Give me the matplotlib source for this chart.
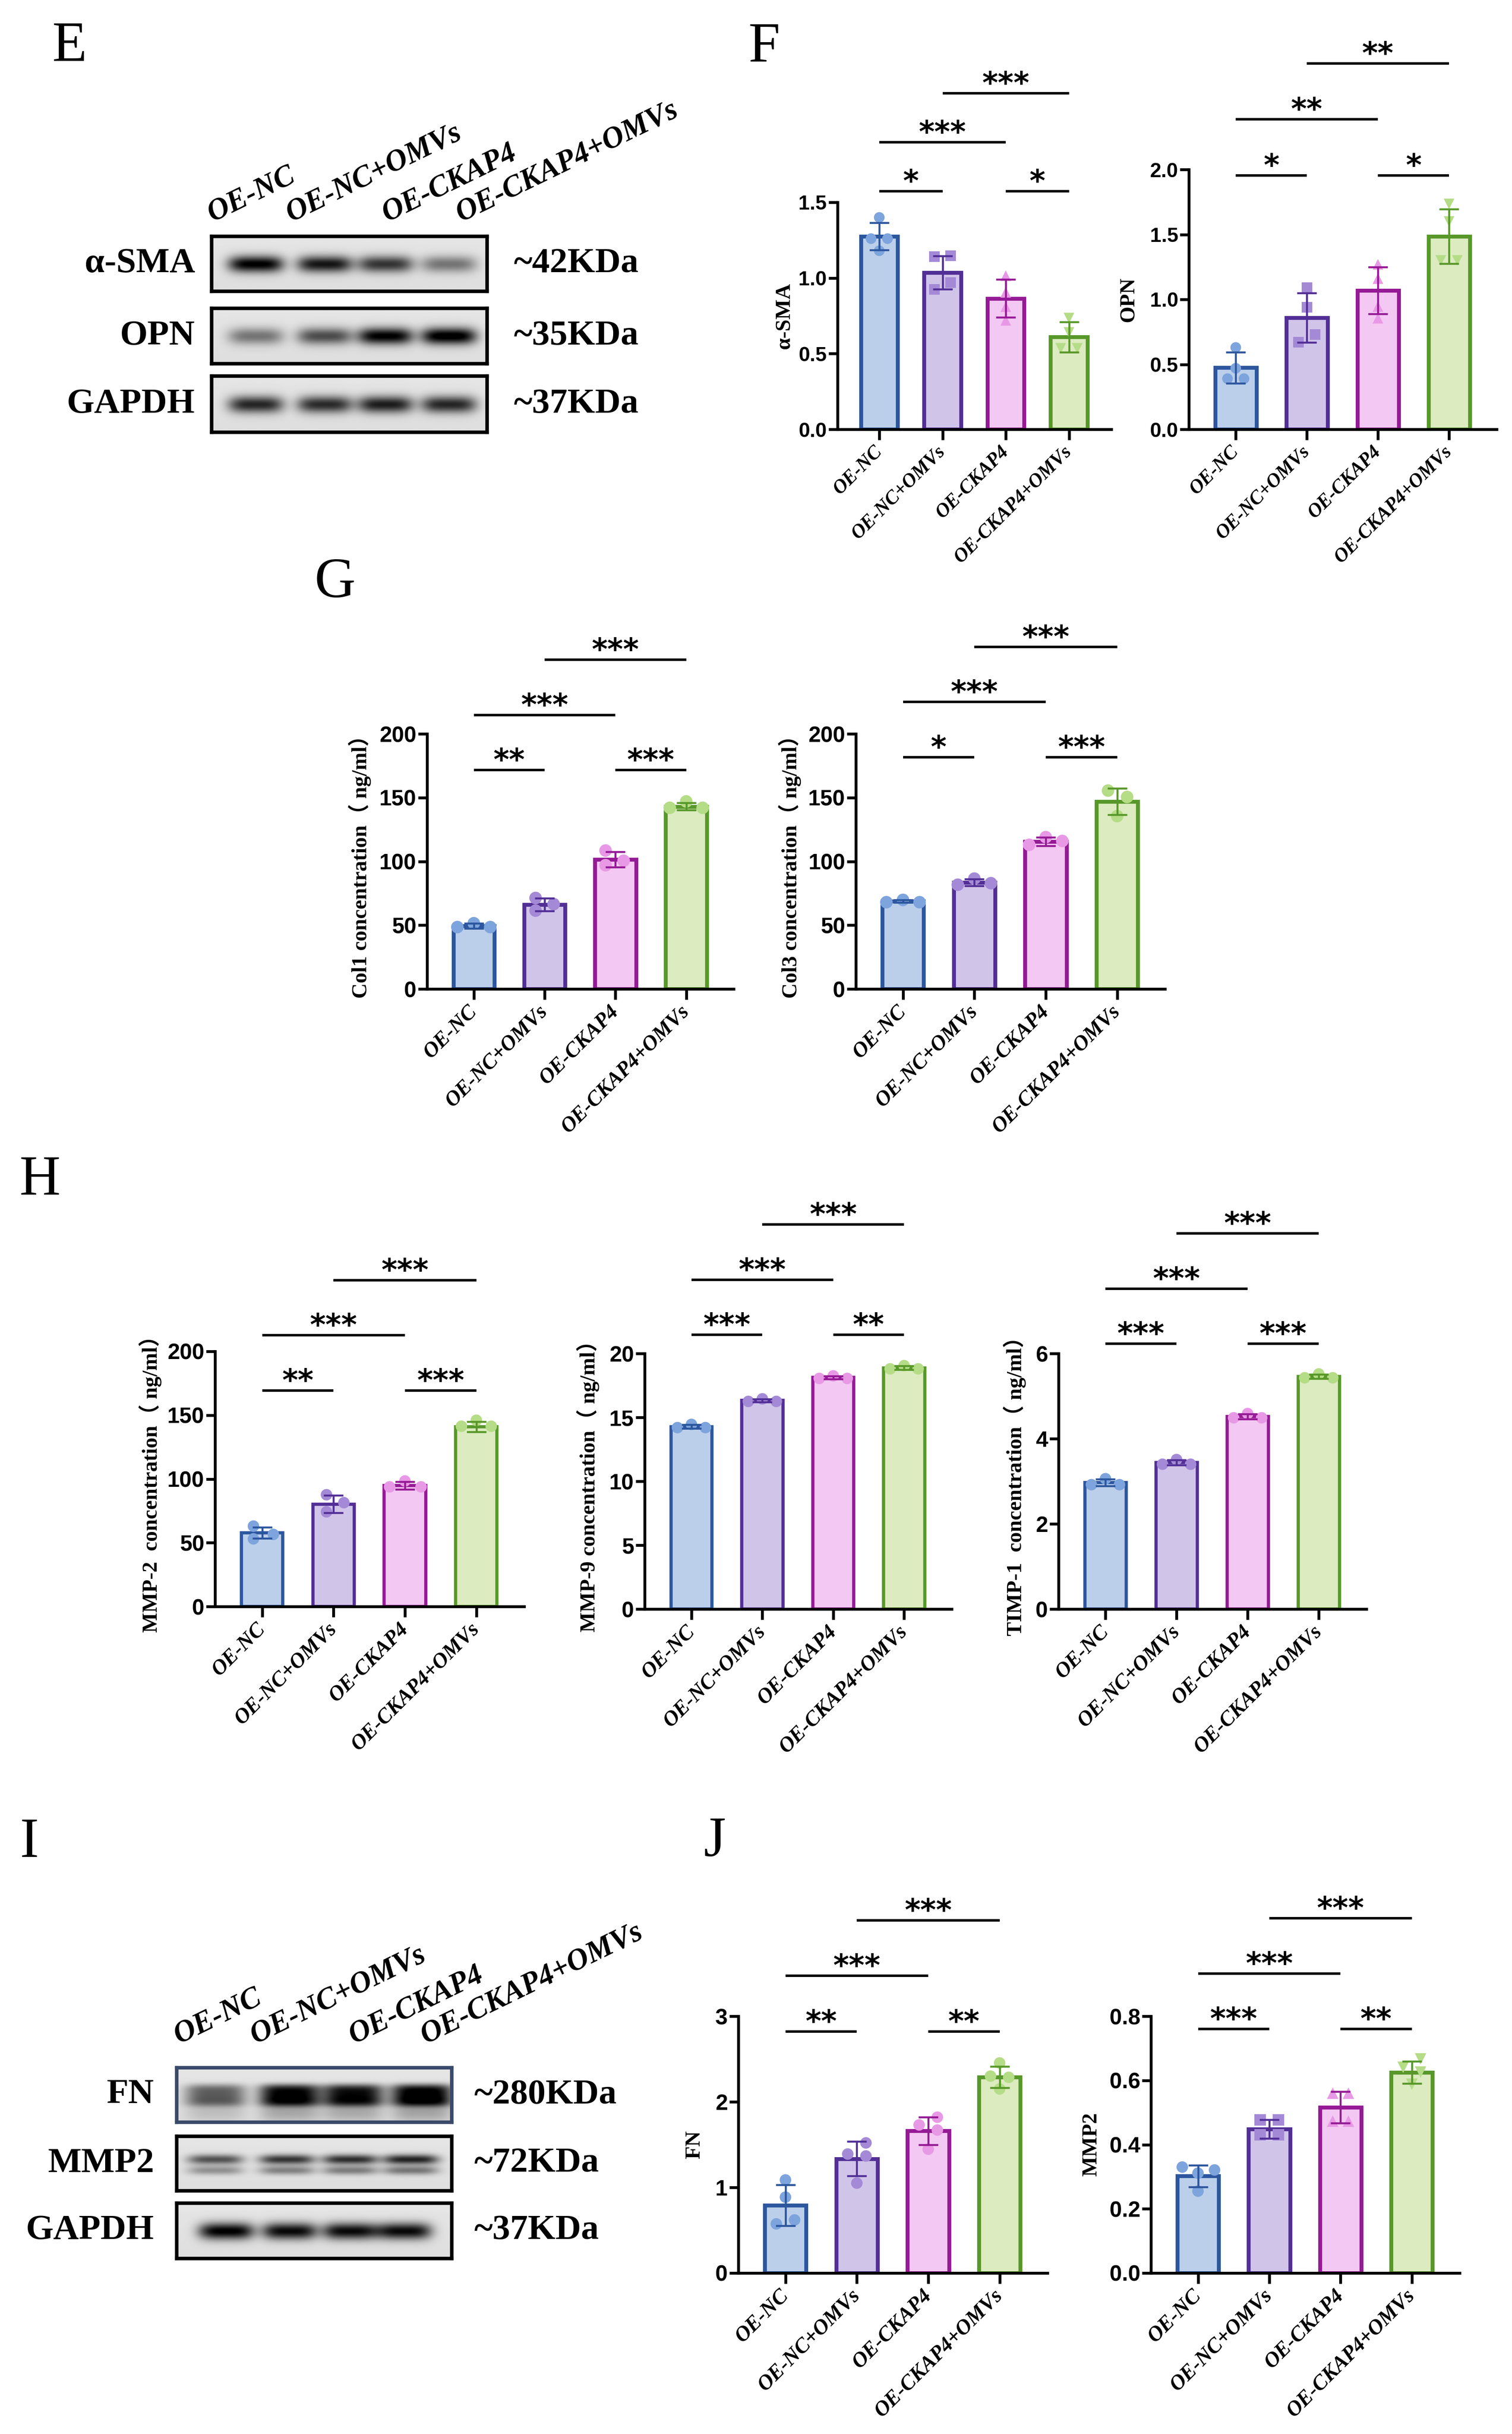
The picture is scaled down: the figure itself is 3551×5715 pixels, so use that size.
import numpy as np
import matplotlib
matplotlib.use("Agg")
import matplotlib.pyplot as plt
from matplotlib.ticker import FormatStrFormatter
from matplotlib.font_manager import FontProperties

W, H = 3551, 5715
DPI = 300
plt.rcParams['font.family'] = ['Liberation Serif', 'Noto Sans CJK SC', 'DejaVu Sans']
SANS = ['Liberation Sans Narrow', 'Liberation Sans', 'DejaVu Sans']

groups = ["OE-NC", "OE-NC+OMVs", "OE-CKAP4", "OE-CKAP4+OMVs"]

# western blot band strength (0 none .. 1 saturated)
e_rows = ["α-SMA", "OPN", "GAPDH"]
e_kda = ["~42KDa", "~35KDa", "~37KDa"]
asma_band = [0.95, 0.85, 0.72, 0.45]
opn_band = [0.45, 0.62, 0.95, 1.0]
gapdh_e_band = [0.78, 0.76, 0.82, 0.78]
i_rows = ["FN", "MMP2", "GAPDH"]
i_kda = ["~280KDa", "~72KDa", "~37KDa"]
fn_band = [0.55, 0.95, 0.9, 1.0]
mmp2_band = [0.6, 0.72, 0.75, 0.8]
gapdh_i_band = [0.95, 0.9, 0.9, 0.9]

# F
asma_mean = [1.275, 1.035, 0.865, 0.61]
asma_sd = [0.09, 0.11, 0.125, 0.10]
asma_pts = [[1.40, 1.26, 1.26, 1.18], [1.14, 1.148, 0.97, 0.925],
            [1.015, 0.905, 0.81, 0.72], [0.735, 0.64, 0.535, 0.535]]
asma_sig = [(0, 1, "*"), (2, 3, "*"), (0, 2, "***"), (1, 3, "***")]
opn_mean = [0.475, 0.86, 1.07, 1.485]
opn_sd = [0.12, 0.19, 0.18, 0.21]
opn_pts = [[0.63, 0.47, 0.39, 0.39], [1.09, 0.94, 0.73, 0.67],
           [1.27, 1.16, 0.945, 0.855], [1.735, 1.60, 1.30, 1.30]]
opn_sig = [(0, 1, "*"), (2, 3, "*"), (0, 2, "**"), (1, 3, "**")]

# G
col1_mean = [49.5, 66.0, 101.5, 143.0]
col1_sd = [2.0, 5.0, 6.0, 2.9]
col1_pts = [[48.5, 51.5, 48.5], [71.3, 66.5, 61.4], [108.5, 100.5, 97.0], [142.0, 147.0, 142.0]]
col1_sig = [(0, 1, "**"), (2, 3, "***"), (0, 2, "***"), (1, 3, "***")]
col3_mean = [68.7, 83.5, 115.5, 147.0]
col3_sd = [1.0, 2.6, 3.3, 10.4]
col3_pts = [[68.0, 69.8, 68.0], [81.7, 86.5, 82.9], [113.0, 119.0, 116.0], [155.5, 150.5, 135.5]]
col3_sig = [(0, 1, "*"), (2, 3, "***"), (0, 2, "***"), (1, 3, "***")]

# H
mmp2c_mean = [57.8, 80.3, 94.8, 141.0]
mmp2c_sd = [4.4, 6.7, 3.0, 4.0]
mmp2c_pts = [[63.0, 56.5, 53.0], [87.6, 81.4, 74.2], [93.8, 98.4, 93.8], [141.3, 146.0, 141.3]]
mmp2c_sig = [(0, 1, "**"), (2, 3, "***"), (0, 2, "***"), (1, 3, "***")]
mmp9_mean = [14.28, 16.32, 18.12, 18.88]
mmp9_sd = [0.14, 0.12, 0.12, 0.14]
mmp9_pts = [[14.2, 14.45, 14.2], [16.25, 16.45, 16.25], [18.05, 18.25, 18.05], [18.8, 19.05, 18.8]]
mmp9_sig = [(0, 1, "***"), (2, 3, "**"), (0, 2, "***"), (1, 3, "***")]
timp_mean = [2.97, 3.44, 4.52, 5.46]
timp_sd = [0.08, 0.06, 0.06, 0.05]
timp_pts = [[2.92, 3.06, 2.92], [3.40, 3.51, 3.40], [4.49, 4.59, 4.49], [5.43, 5.52, 5.43]]
timp_sig = [(0, 1, "***"), (2, 3, "***"), (0, 2, "***"), (1, 3, "***")]

# J
fn_mean = [0.79, 1.335, 1.66, 2.29]
fn_sd = [0.24, 0.20, 0.16, 0.125]
fn_pts = [[1.087, 0.886, 0.62, 0.574], [1.52, 1.39, 1.367, 1.05],
          [1.82, 1.73, 1.67, 1.446], [2.454, 2.30, 2.286, 2.15]]
fn_sig = [(0, 1, "**"), (2, 3, "**"), (0, 2, "***"), (1, 3, "***")]
mmp2_mean = [0.302, 0.448, 0.516, 0.625]
mmp2_sd = [0.034, 0.029, 0.049, 0.034]
mmp2_pts = [[0.33, 0.321, 0.311, 0.255], [0.477, 0.477, 0.43, 0.43],
            [0.56, 0.56, 0.473, 0.473], [0.667, 0.641, 0.626, 0.588]]
mmp2_sig = [(0, 1, "***"), (2, 3, "**"), (0, 2, "***"), (1, 3, "***")]

fills = ['#BCCFEA', '#D1C4E9', '#F3C8F2', '#DCEBC0']
edges = ['#2C569E', '#522F96', '#951A95', '#58982A']
ptcol = ['#7DA4DC', '#A48AD6', '#E899E6', '#B5DC86']
mk4 = ['o', 's', '^', 'v']
mk_o = ['o', 'o', 'o', 'o']

fig = plt.figure(figsize=(W / DPI, H / DPI), dpi=DPI)


def rect(x0, ytop, x1, ybot):
    return [x0 / W, 1 - ybot / H, (x1 - x0) / W, (ybot - ytop) / H]


def letter(x, y, s):
    fig.text(x / W, 1 - y / H, s, fontsize=32, ha='left', va='baseline')


def bar_panel(r, mean, sd, pts, offs, marks, ymax, step, fmt, ylabel, lab_off,
              sig, base, ms=40, lw=2.2, xfs=12, yfs=12.5):
    ax = fig.add_axes(rect(*r))
    x = np.arange(4)
    ax.bar(x, mean, width=0.58, color=fills, edgecolor=edges, linewidth=lw, zorder=2)
    for i in range(4):
        for v, o in zip(pts[i], offs[i]):
            ax.scatter(i + o * 0.58, v, marker=marks[i], s=ms, color=ptcol[i],
                       edgecolors='none', zorder=3, clip_on=False)
        ax.errorbar(i, mean[i], yerr=sd[i], fmt='none', ecolor=edges[i],
                    elinewidth=1.1, capsize=5.5, capthick=1.1, zorder=4)
    ax.set_xlim(-0.66, 3.67)
    ax.set_ylim(0, ymax)
    ticks = np.arange(0, ymax + step / 2, step)
    ax.set_yticks(ticks)
    ax.set_yticklabels([fmt % t for t in ticks],
                       fontproperties=FontProperties(family=SANS, weight='bold', size=yfs))
    for s in ['top', 'right']:
        ax.spines[s].set_visible(False)
    for s in ['left', 'bottom']:
        ax.spines[s].set_linewidth(1.6)
    ax.tick_params(axis='x', length=6, width=1.6, pad=5)
    ax.tick_params(axis='y', length=5, width=1.6, pad=1)
    ax.set_xticks(x)
    ax.set_xticklabels(groups, rotation=45, ha='right', va='center',
                       rotation_mode='anchor', fontsize=xfs,
                       fontweight='bold', fontstyle='italic')
    ax.set_ylabel(ylabel, fontsize=12, fontweight='bold', va='center')
    wpx = r[2] - r[0]
    ax.yaxis.set_label_coords(-lab_off / wpx, 0.5)
    lev = [0, 0, 1, 2]
    for (i, j, lab), k in zip(sig, lev):
        y = (base + 0.216 * k) * ymax
        ax.plot([i, j], [y, y], color='black', lw=1.4, clip_on=False,
                solid_capstyle='butt')
        ax.annotate(lab, xy=((i + j) / 2, y), xytext=(0, 0),
                    textcoords='offset points', ha='center', va='baseline',
                    fontsize=17, fontweight='bold', family='DejaVu Sans',
                    annotation_clip=False)
    return ax


def blot(r, strength, lanes, bw, kind='single', border='black'):
    ax = fig.add_axes(rect(*r))
    ny, nx = 90, 420
    yy, xx = np.mgrid[0:ny, 0:nx]
    xx = xx / nx
    yy = yy / ny
    img = np.full((ny, nx), 0.9) - 0.03 * yy
    for s, c in zip(strength, lanes):
        px = np.exp(-((xx - c) / bw) ** 4)
        if kind == 'single':
            py = np.exp(-((yy - 0.5) / 0.15) ** 2)
        elif kind == 'doublet':
            py = np.exp(-((yy - 0.42) / 0.09) ** 2) + 0.55 * np.exp(-((yy - 0.62) / 0.08) ** 2)
        else:
            py = np.exp(-((yy - 0.5) / 0.2) ** 4) + 0.25 * np.exp(-((yy - 0.8) / 0.2) ** 2)
        img = img - 0.95 * s * px * py
    ax.imshow(np.clip(img, 0, 1), cmap='gray', vmin=0, vmax=1, aspect='auto',
              interpolation='bilinear')
    ax.set_xticks([])
    ax.set_yticks([])
    for s in ax.spines.values():
        s.set_linewidth(2.0)
        s.set_color(border)
    return ax


def blot_labels(xs, y, right_x, kda_x, row_ys, rows, kdas):
    for g, x0 in zip(groups, xs):
        fig.text(x0 / W, 1 - y / H, g, rotation=26, rotation_mode='anchor',
                 ha='left', va='baseline', fontsize=17, fontweight='bold',
                 fontstyle='italic')
    for yc, lab, kd in zip(row_ys, rows, kdas):
        fig.text(right_x / W, 1 - yc / H, lab, ha='right', va='center',
                 fontsize=20, fontweight='bold')
        fig.text(kda_x / W, 1 - yc / H, kd, ha='left', va='center',
                 fontsize=20, fontweight='bold')


# ---- E
letter(122, 143, "E")
lane_e = [0.16, 0.41, 0.63, 0.86]
blot((497, 555, 1144, 684), asma_band, lane_e, 0.1)
blot((497, 724, 1144, 854), opn_band, lane_e, 0.1)
blot((497, 883, 1144, 1015), gapdh_e_band, lane_e, 0.1)
blot_labels([499, 684, 909, 1083], 522, 458, 1206, [620, 789, 949], e_rows, e_kda)

# ---- F
letter(1757, 144, "F")
off4a = [[0, -0.225, 0.225, 0], [-0.225, 0.225, 0.225, -0.225], [0, 0, 0, 0], [0, 0, -0.225, 0.225]]
bar_panel((1967, 475, 2610, 1008), asma_mean, asma_sd, asma_pts, off4a, mk4, 1.5, 0.5,
          '%.1f', 'α-SMA', 125, asma_sig, 1.049, ms=36, xfs=11, yfs=11.5)
off4b = [[0, 0, -0.2, 0.2], [0, 0, 0.2, -0.2], [0, 0, 0, 0], [0, 0, -0.2, 0.2]]
bar_panel((2792, 398, 3515, 1008), opn_mean, opn_sd, opn_pts, off4b, mk4, 2.0, 0.5,
          '%.1f', 'OPN', 142, opn_sig, 0.977, ms=36, xfs=11, yfs=11.5)

# ---- G
letter(738, 1402, "G")
off_c1 = [[-0.4, 0, 0.4], [-0.22, 0.22, -0.22], [-0.24, 0.2, -0.24], [-0.4, 0, 0.4]]
bar_panel((1003, 1723, 1723, 2322), col1_mean, col1_sd, col1_pts, off_c1, mk_o, 200, 50,
          '%d', 'Col1 concentration（ ng/ml）', 158, col1_sig, 0.858, ms=50)
off_c3 = [[-0.4, 0, 0.4], [-0.4, 0, 0.4], [-0.4, 0, 0.4], [-0.22, 0.24, 0]]
bar_panel((2010, 1723, 2736, 2322), col3_mean, col3_sd, col3_pts, off_c3, mk_o, 200, 50,
          '%d', 'Col3 concentration（ ng/ml）', 155, col3_sig, 0.909, ms=50)

# ---- H
letter(45, 2805, "H")
off_m2 = [[-0.21, 0.27, -0.21], [-0.17, 0.25, -0.17], [-0.37, 0, 0.39], [-0.36, 0, 0.36]]
bar_panel((505, 3173, 1231, 3772), mmp2c_mean, mmp2c_sd, mmp2c_pts, off_m2, mk_o, 200, 50,
          '%d', 'MMP-2  concentration（ ng/ml）', 152, mmp2c_sig, 0.847, ms=42, lw=1.8)
off_3 = [[-0.34, 0, 0.34]] * 4
bar_panel((1514, 3178, 2235, 3778), mmp9_mean, mmp9_sd, mmp9_pts, off_3, mk_o, 20, 5,
          '%d', 'MMP-9 concentration（ ng/ml）', 133, mmp9_sig, 1.073, ms=42, lw=1.8)
bar_panel((2486, 3178, 3209, 3778), timp_mean, timp_sd, timp_pts, off_3, mk_o, 6, 2,
          '%d', 'TIMP-1  concentration（ ng/ml）', 103, timp_sig, 1.038, ms=42, lw=1.8)

# ---- I
letter(46, 4360, "I")
blot((415, 4855, 1061, 4983), fn_band, [0.14, 0.41, 0.64, 0.89], 0.11, kind='smear',
     border='#3A4A6A')
blot((415, 5016, 1061, 5144), mmp2_band, [0.14, 0.4, 0.63, 0.85], 0.1, kind='doublet')
blot((415, 5173, 1061, 5303), gapdh_i_band, [0.18, 0.41, 0.63, 0.825], 0.1)
blot_labels([420, 600, 831, 1000], 4800, 362, 1113, [4919, 5080, 5238], i_rows, i_kda)

# ---- J
letter(1652, 4358, "J")
off_fn = [[0, 0, 0.22, -0.22], [0.22, -0.22, 0.22, 0], [0.22, -0.22, 0.22, 0], [0, -0.22, 0.22, 0]]
bar_panel((1734, 4734, 2460, 5337), fn_mean, fn_sd, fn_pts, off_fn, mk_o, 3, 1,
          '%d', 'FN', 103, fn_sig, 0.941, ms=42)
off_mm = [[-0.38, 0.4, 0, 0], [-0.22, 0.22, -0.22, 0.22], [-0.19, 0.19, -0.19, 0.19],
          [0.21, -0.21, 0.21, 0]]
bar_panel((2703, 4734, 3428, 5337), mmp2_mean, mmp2_sd, mmp2_pts, off_mm, mk4, 0.8, 0.2,
          '%.1f', 'MMP2', 140, mmp2_sig, 0.95, ms=42)

fig.savefig("out.png", dpi=DPI)
